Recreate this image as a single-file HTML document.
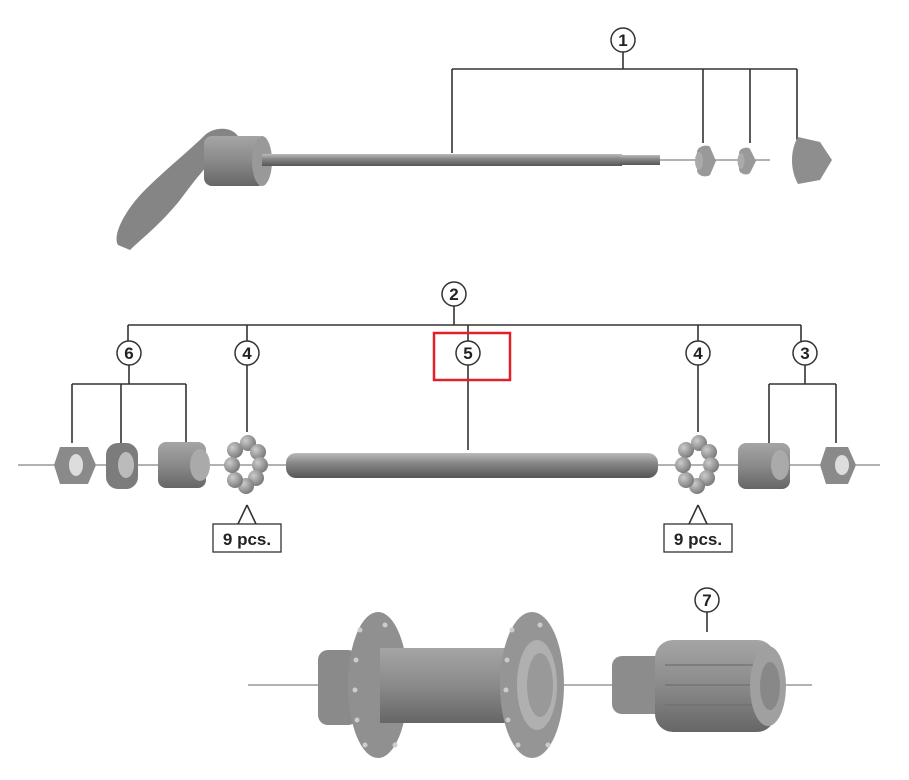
<!DOCTYPE html>
<html><head><meta charset="utf-8"><style>
html,body{margin:0;padding:0;background:#fff}
svg{display:block}
text{font-family:"Liberation Sans",sans-serif;font-weight:bold;font-size:17px;fill:#222}
</style></head><body>
<svg width="909" height="780" viewBox="0 0 909 780" xmlns="http://www.w3.org/2000/svg">
<defs>
<linearGradient id="rod" x1="0" y1="0" x2="0" y2="1"><stop offset="0" stop-color="#bbb"/><stop offset="0.4" stop-color="#888"/><stop offset="1" stop-color="#555"/></linearGradient>
<radialGradient id="ball" cx="0.35" cy="0.35" r="0.7"><stop offset="0" stop-color="#ccc"/><stop offset="1" stop-color="#777"/></radialGradient>
<linearGradient id="body" x1="0" y1="0" x2="0" y2="1"><stop offset="0" stop-color="#a5a5a5"/><stop offset="0.5" stop-color="#8a8a8a"/><stop offset="1" stop-color="#666"/></linearGradient>
</defs>
<g stroke="#333" stroke-width="1.6" fill="none">
<path d="M623 52V69M452 69H797M452 69V153M703 69V143M750 69V143M797 69V140"/>
<path d="M454 306V325M128 325H801M128 325V341M247 325V341M468 325V341M698 325V341M801 325V341"/>
<path d="M129 365V384M72 384H186M72 384V443M121 384V443M186 384V443"/>
<path d="M247 365V432M468 365V450M698 365V432"/>
<path d="M805 365V384M769 384H836M769 384V443M836 384V443"/>
<path d="M247 505L238 524M247 505L256 524M698 505L689 524M698 505L707 524"/>
<path d="M707 612V632"/>
</g>
<g stroke="#666" stroke-width="1">
<path d="M18 465H880"/><path d="M660 160H770"/><path d="M248 685H812"/>
</g>
<g fill="#fff" stroke="#333" stroke-width="1.5">
<circle cx="623" cy="40" r="12"/><circle cx="454" cy="294" r="12"/>
<circle cx="129" cy="353" r="12"/><circle cx="247" cy="353" r="12"/><circle cx="468" cy="353" r="12"/>
<circle cx="698" cy="353" r="12"/><circle cx="805" cy="353" r="12"/><circle cx="707" cy="600" r="12"/>
</g>
<g text-anchor="middle">
<text x="623" y="46">1</text><text x="454" y="300">2</text><text x="129" y="359">6</text><text x="247" y="359">4</text>
<text x="468" y="359">5</text><text x="698" y="359">4</text><text x="805" y="359">3</text><text x="707" y="606">7</text>
</g>
<rect x="434" y="333" width="76" height="47" fill="none" stroke="#e0202a" stroke-width="2.5"/>
<g fill="#fff" stroke="#333" stroke-width="1.3"><rect x="213" y="524" width="68" height="28"/><rect x="664" y="524" width="68" height="28"/></g>
<text x="247" y="545" text-anchor="middle">9 pcs.</text><text x="698" y="545" text-anchor="middle">9 pcs.</text>
<path d="M118 245C112 235 125 210 145 190C165 170 190 150 205 135C215 126 235 126 240 140L225 150C210 160 195 180 180 200C160 225 140 240 130 250Z" fill="#858585"/>
<rect x="204" y="136" width="62" height="50" rx="8" fill="url(#body)"/>
<ellipse cx="262" cy="161" rx="10" ry="25" fill="#999"/>
<rect x="262" y="154" width="360" height="12" fill="url(#rod)"/>
<rect x="620" y="155" width="40" height="10" fill="url(#rod)"/>
<path d="M697 152C697 146 708 144 710 147L716 161L710 175C706 178 697 176 697 170Z" fill="#999"/>
<ellipse cx="699" cy="161" rx="4" ry="9" fill="#aaa"/>
<path d="M739 153C739 148 748 146 750 149L756 161L750 173C747 176 739 174 739 169Z" fill="#999"/>
<ellipse cx="741" cy="161" rx="3.5" ry="8" fill="#aaa"/>
<path d="M798 137L820 142L832 160L820 180L798 184C790 170 790 150 798 137Z" fill="#8e8e8e"/>
<path d="M60 447H88L96 465L88 484H60L54 465Z" fill="#8a8a8a"/><ellipse cx="76" cy="465" rx="7" ry="11" fill="#ddd"/>
<rect x="106" y="443" width="32" height="46" rx="12" fill="#7c7c7c"/><ellipse cx="126" cy="465" rx="8" ry="13" fill="#bbb"/>
<rect x="158" y="442" width="48" height="46" rx="8" fill="url(#body)"/><ellipse cx="200" cy="465" rx="10" ry="16" fill="#aaa"/>
<rect x="286" y="453" width="372" height="25" rx="10" fill="url(#rod)"/>
<g fill="url(#ball)">
<circle cx="235" cy="450" r="8"/><circle cx="248" cy="443" r="8"/><circle cx="258" cy="452" r="8"/><circle cx="260" cy="465" r="8"/><circle cx="256" cy="478" r="8"/><circle cx="246" cy="486" r="8"/><circle cx="235" cy="480" r="8"/><circle cx="232" cy="465" r="8"/>
<circle cx="686" cy="450" r="8"/><circle cx="699" cy="443" r="8"/><circle cx="709" cy="452" r="8"/><circle cx="711" cy="465" r="8"/><circle cx="707" cy="478" r="8"/><circle cx="697" cy="486" r="8"/><circle cx="686" cy="480" r="8"/><circle cx="683" cy="465" r="8"/>
</g>
<rect x="738" y="443" width="52" height="46" rx="8" fill="url(#body)"/><ellipse cx="780" cy="465" rx="9" ry="15" fill="#aaa"/>
<path d="M826 447H848L856 465L848 484H826L820 465Z" fill="#8a8a8a"/><ellipse cx="842" cy="465" rx="7" ry="10" fill="#ddd"/>
<rect x="318" y="650" width="40" height="75" rx="10" fill="#8a8a8a"/>
<ellipse cx="378" cy="685" rx="30" ry="73" fill="#909090"/>
<rect x="380" y="648" width="150" height="75" fill="url(#body)"/>
<ellipse cx="532" cy="685" rx="32" ry="73" fill="#959595"/>
<ellipse cx="537" cy="685" rx="20" ry="45" fill="#b0b0b0"/>
<ellipse cx="540" cy="685" rx="13" ry="32" fill="#999"/>
<g fill="#ccc">
<circle cx="360" cy="630" r="2.5"/><circle cx="356" cy="660" r="2.5"/><circle cx="355" cy="690" r="2.5"/><circle cx="357" cy="720" r="2.5"/><circle cx="365" cy="745" r="2.5"/><circle cx="385" cy="625" r="2.5"/><circle cx="395" cy="745" r="2.5"/>
<circle cx="512" cy="630" r="2.5"/><circle cx="507" cy="660" r="2.5"/><circle cx="506" cy="690" r="2.5"/><circle cx="508" cy="720" r="2.5"/><circle cx="518" cy="745" r="2.5"/><circle cx="540" cy="625" r="2.5"/><circle cx="548" cy="745" r="2.5"/>
</g>
<rect x="612" y="656" width="60" height="58" rx="10" fill="#8c8c8c"/>
<rect x="655" y="640" width="120" height="92" rx="18" fill="url(#body)"/>
<g stroke="#6f6f6f" stroke-width="1.2"><path d="M665 665H760M665 685H760M665 705H760"/></g>
<ellipse cx="768" cy="686" rx="18" ry="40" fill="#a0a0a0"/>
<ellipse cx="770" cy="686" rx="10" ry="24" fill="#888"/>
</svg>
</body></html>
